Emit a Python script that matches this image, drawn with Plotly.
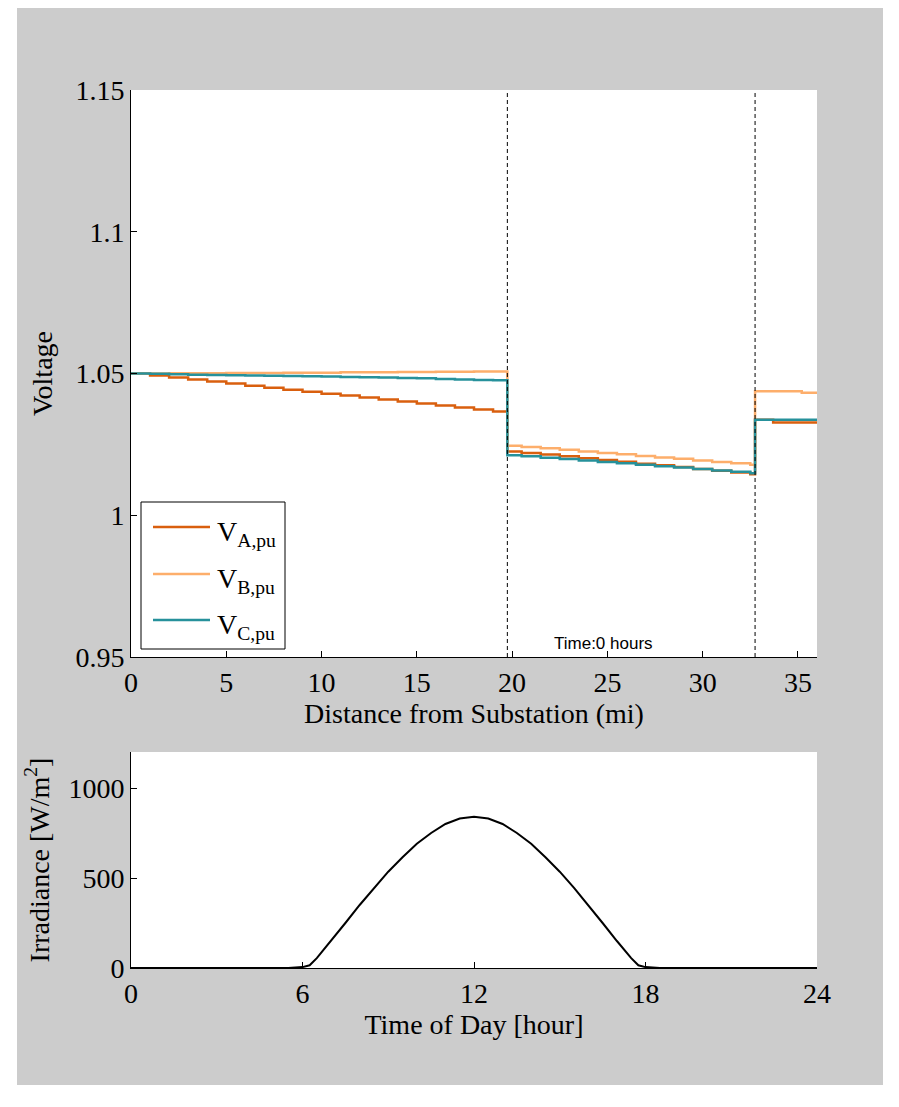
import plotly.graph_objects as go

# ---------------- data ----------------
dist_seg1 = [0, 1, 2, 3, 4, 5, 6, 7, 8, 9, 10, 11, 12, 13, 14, 15, 16, 17, 18, 19]
va_seg1 = [1.0500, 1.0493, 1.0486, 1.0479, 1.0472, 1.0465, 1.0457, 1.0450, 1.0443, 1.0436,
           1.0429, 1.0422, 1.0415, 1.0408, 1.0401, 1.0394, 1.0387, 1.0380, 1.0373, 1.0366]
vb_seg1 = [1.0500, 1.0500, 1.0501, 1.0501, 1.0501, 1.0502, 1.0502, 1.0502, 1.0503, 1.0503,
           1.0503, 1.0504, 1.0504, 1.0504, 1.0505, 1.0505, 1.0506, 1.0506, 1.0507, 1.0507]
vc_seg1 = [1.0500, 1.0499, 1.0497, 1.0496, 1.0495, 1.0494, 1.0493, 1.0492, 1.0491, 1.0490,
           1.0489, 1.0488, 1.0487, 1.0486, 1.0484, 1.0483, 1.0481, 1.0479, 1.0477, 1.0476]

dist_seg2 = [19.75, 20.5, 21.5, 22.5, 23.5, 24.5, 25.5, 26.5, 27.5, 28.5, 29.5, 30.5, 31.5, 32.5]
va_seg2 = [1.0225, 1.0220, 1.0214, 1.0208, 1.0201, 1.0195, 1.0189, 1.0182, 1.0176, 1.0170,
           1.0163, 1.0157, 1.0151, 1.0145]
vb_seg2 = [1.0245, 1.0241, 1.0236, 1.0231, 1.0225, 1.0220, 1.0215, 1.0209, 1.0204, 1.0199,
           1.0193, 1.0188, 1.0183, 1.0178]
vc_seg2 = [1.0212, 1.0208, 1.0203, 1.0198, 1.0193, 1.0188, 1.0183, 1.0178, 1.0173, 1.0168,
           1.0163, 1.0158, 1.0153, 1.0148]

dist_seg3 = [32.75, 33.7, 35.2, 36]
va_seg3 = [1.0337, 1.0327, 1.0327, 1.0327]
vb_seg3 = [1.0437, 1.0437, 1.0432, 1.0432]
vc_seg3 = [1.0337, 1.0337, 1.0337, 1.0337]

regulator_positions = [19.75, 32.75]

hours = [0, 1, 2, 3, 4, 5, 5.5, 6, 6.25, 6.5, 7, 7.5, 8, 8.5, 9, 9.5, 10, 10.5, 11, 11.5, 12,
         12.5, 13, 13.5, 14, 14.5, 15, 15.5, 16, 16.5, 17, 17.5, 17.75, 18, 18.5, 19, 20, 21,
         22, 23, 24]
irradiance = [0, 0, 0, 0, 0, 0, 0, 5, 15, 55, 150, 250, 350, 445, 535, 615, 690, 750, 800, 830,
              840, 830, 800, 750, 690, 615, 535, 445, 350, 250, 150, 55, 15, 5, 0, 0, 0, 0,
              0, 0, 0]

x_ticks_top = [0, 5, 10, 15, 20, 25, 30, 35]
y_ticks_top = [0.95, 1, 1.05, 1.1, 1.15]
y_ticklabels_top = ["0.95", "1", "1.05", "1.1", "1.15"]
x_ticks_bot = [0, 6, 12, 18, 24]
y_ticks_bot = [0, 500, 1000]

series_names = ["V<sub>A,pu</sub>", "V<sub>B,pu</sub>", "V<sub>C,pu</sub>"]
series_colors = ["rgb(217,95,14)", "rgb(253,174,107)", "rgb(38,145,155)"]
series_data = [(va_seg1, va_seg2, va_seg3), (vb_seg1, vb_seg2, vb_seg3), (vc_seg1, vc_seg2, vc_seg3)]

# ---------------- layout geometry (pixels) ----------------
W, H = 899, 1107
L, R, T, B = 131, 817, 90, 968
top_bottom_px = 657
bot_top_px = 752
plot_h = B - T


def ypap(py):
    return (B - py) / plot_h


def xpap(px):
    return (px - L) / (R - L)


SERIF = "Liberation Serif"
fig = go.Figure()

for name, (s1, s2, s3), col in zip(series_names, series_data, series_colors):
    xs = dist_seg1 + dist_seg2 + dist_seg3
    ys = s1 + s2 + s3
    fig.add_trace(go.Scatter(x=xs, y=ys, mode="lines", line=dict(color=col, width=2.5, shape="hv"),
                             name=name, xaxis="x", yaxis="y", showlegend=False))

fig.add_trace(go.Scatter(x=hours, y=irradiance, mode="lines", line=dict(color="black", width=2),
                         showlegend=False, xaxis="x2", yaxis="y2"))

shapes = []
for xp in regulator_positions:
    shapes.append(dict(type="line", xref="x", yref="y", x0=xp, x1=xp, y0=0.95, y1=1.15,
                       line=dict(color="black", width=1, dash="4px,3px")))

# white border around grey figure area
for (px0, px1, py0, py1) in [(0, 17, 0, H), (883, W, 0, H), (0, W, 0, 8), (0, W, 1085, H)]:
    shapes.append(dict(type="rect", xref="paper", yref="paper", x0=xpap(px0), x1=xpap(px1),
                       y0=ypap(py1), y1=ypap(py0), fillcolor="white", line=dict(width=0),
                       layer="above"))

# legend box (drawn as shapes + text)
shapes.append(dict(type="rect", xref="paper", yref="paper", x0=xpap(141), x1=xpap(285),
                   y0=ypap(649), y1=ypap(502), fillcolor="white",
                   line=dict(color="black", width=1), layer="above"))
legend_rows_px = [527, 574, 620]
annotations = []
for name, col, py in zip(series_names, series_colors, legend_rows_px):
    shapes.append(dict(type="line", xref="paper", yref="paper", x0=xpap(153), x1=xpap(210),
                       y0=ypap(py), y1=ypap(py), line=dict(color=col, width=2.5), layer="above"))
    annotations.append(dict(text=name, xref="paper", yref="paper", x=xpap(215), y=ypap(py + 6),
                            xanchor="left", yanchor="middle", showarrow=False,
                            font=dict(family=SERIF, size=28, color="black")))

annotations.append(dict(text="Time:0 hours", x=24.8, y=0.9548, xref="x", yref="y",
                        showarrow=False, font=dict(family="Liberation Sans", size=17, color="black")))

axis_common = dict(showline=True, linecolor="black", linewidth=1, ticks="inside", ticklen=6,
                   tickcolor="black", showgrid=False, zeroline=False, mirror=False,
                   tickfont=dict(family=SERIF, size=28, color="black"))

fig.update_layout(
    width=W, height=H,
    margin=dict(l=L, r=W - R, t=T, b=H - B),
    paper_bgcolor="rgb(204,204,204)",
    plot_bgcolor="white",
    showlegend=False,
    xaxis=dict(domain=[0, 1], range=[0, 36], anchor="y", tickvals=x_ticks_top,
               title=dict(text="Distance from Substation (mi)", standoff=4,
                          font=dict(family=SERIF, size=28, color="black")),
               **axis_common),
    yaxis=dict(domain=[ypap(top_bottom_px), 1], range=[0.95, 1.15], anchor="x",
               tickvals=y_ticks_top, ticktext=y_ticklabels_top,
               title=dict(text="Voltage", standoff=14,
                          font=dict(family=SERIF, size=28, color="black")),
               **axis_common),
    xaxis2=dict(domain=[0, 1], range=[0, 24], anchor="y2", tickvals=x_ticks_bot,
                title=dict(text="Time of Day [hour]", standoff=4,
                           font=dict(family=SERIF, size=28, color="black")),
                **axis_common),
    yaxis2=dict(domain=[0, ypap(bot_top_px)], range=[0, 1200], anchor="x2", tickvals=y_ticks_bot,
                title=dict(text="Irradiance [W/m<sup>2</sup>]", standoff=10,
                           font=dict(family=SERIF, size=28, color="black")),
                **axis_common),
    shapes=shapes,
    annotations=annotations,
)

fig.write_html("out.html")
